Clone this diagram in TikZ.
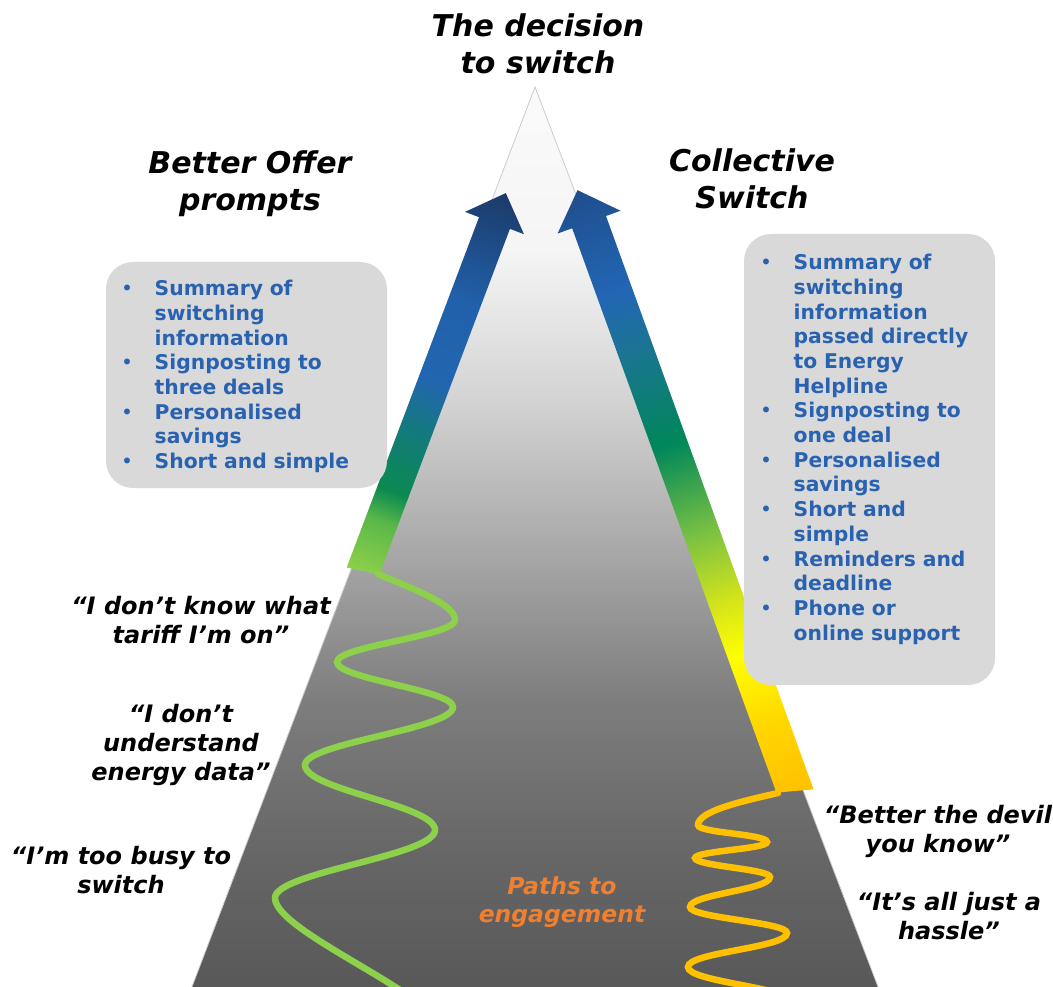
\documentclass[tikz,border=0pt]{standalone}
\usepackage{fontspec}
\setmainfont{DejaVu Sans}[BoldFont={DejaVu Sans Bold},ItalicFont={DejaVu Sans Oblique},BoldItalicFont={DejaVu Sans Bold Oblique}]
\definecolor{boxgray}{HTML}{D9D9D9}
\definecolor{bultxt}{HTML}{2862B0}
\definecolor{pathorange}{HTML}{F07F2F}
\definecolor{wavegreen}{HTML}{8CD04B}
\definecolor{waveorange}{HTML}{FFC000}
% triangle greys
\definecolor{tg0}{gray}{0.345}
\definecolor{tg1}{gray}{0.40}
\definecolor{tg2}{gray}{0.49}
\definecolor{tg3}{gray}{0.647}
\definecolor{tg4}{gray}{0.824}
\definecolor{tg5}{gray}{0.96}
\definecolor{tg6}{gray}{0.98}
% left arrow
\definecolor{la0}{HTML}{8ED04A}
\definecolor{la1}{HTML}{5AB848}
\definecolor{la2}{HTML}{0A8A50}
\definecolor{la3}{HTML}{137A7C}
\definecolor{la4}{HTML}{2266B0}
\definecolor{la5}{HTML}{2160AA}
\definecolor{la6}{HTML}{1C3A68}
% right arrow
\definecolor{ra0}{HTML}{FFC000}
\definecolor{ra1}{HTML}{FFD700}
\definecolor{ra2}{HTML}{FFFF00}
\definecolor{ra3}{HTML}{D4E41A}
\definecolor{ra4}{HTML}{7CC242}
\definecolor{ra5}{HTML}{00875A}
\definecolor{ra6}{HTML}{1A7590}
\definecolor{ra7}{HTML}{2266B5}
\definecolor{ra8}{HTML}{1F4E8C}
\pgfdeclareverticalshading{mountain}{100bp}{color(0bp)=(tg0); color(25bp)=(tg0); color(32.5bp)=(tg1); color(41bp)=(tg2); color(48.75bp)=(tg3); color(57.5bp)=(tg4); color(66bp)=(tg5); color(75bp)=(tg6); color(100bp)=(tg6)}
\pgfdeclareverticalshading{leftarrow}{100bp}{color(0bp)=(la0); color(25bp)=(la0); color(31.75bp)=(la1); color(35.7bp)=(la2); color(43.6bp)=(la3); color(50.25bp)=(la4); color(60.8bp)=(la5); color(75bp)=(la6); color(100bp)=(la6)}
\pgfdeclareverticalshading{rightarrow}{100bp}{color(0bp)=(ra0); color(25bp)=(ra0); color(31bp)=(ra1); color(36.75bp)=(ra2); color(41bp)=(ra3); color(46.5bp)=(ra4); color(54bp)=(ra5); color(61.5bp)=(ra6); color(66.5bp)=(ra7); color(75bp)=(ra8); color(100bp)=(ra8)}
\newcommand{\bitem}[1]{\noindent\makebox[36.5pt][l]{\makebox[18pt]{\mdseries •}}\parbox[t]{205pt}{\raggedright #1\par\xdef\bitemdepth{\the\prevdepth}}\par\prevdepth=\bitemdepth\relax}
\tikzset{
  headtxt/.style={font=\fontsize{30}{37}\selectfont\bfseries\itshape, align=center, inner sep=0pt, text=black},
  quotetxt/.style={font=\fontsize{24}{29}\selectfont\bfseries\itshape, align=center, inner sep=0pt, text=black},
  pathtxt/.style={font=\fontsize{23.5}{28}\selectfont\bfseries\itshape, align=center, inner sep=0pt, text=pathorange},
  bullettxt/.style={font=\fontsize{20.3}{24.7}\selectfont\bfseries, inner sep=0pt, text=bultxt, anchor=north west},
  infobox/.style={fill=boxgray, rounded corners=27pt},
  wave/.style={line width=6.5pt, line cap=round}
}
\begin{document}
\begin{tikzpicture}[x=1pt,y=-1pt]
\useasboundingbox (0,0) rectangle (1053,987);
\fill[white] (0,0) rectangle (1053,987);
% mountain
\shadedraw[shading=mountain, draw=gray!40, line width=0.8pt] (535,87) -- (880,992) -- (190,992) -- cycle;
% left arrow
\begin{scope}[transform canvas={shift={(363,571)}, rotate=-20.7}]
  \shade[shading=leftarrow] (-16.5,2.5) -- (16.5,-2.5) -- (16.5,-372) -- (31.5,-372) -- (0,-404) -- (-31.5,-372) -- (-16.5,-372) -- cycle;
\end{scope}
% right arrow
\begin{scope}[transform canvas={shift={(795,791)}, rotate=19.9}]
  \shade[shading=rightarrow] (-18,-4.8) -- (18,4.8) -- (18,-605) -- (33.5,-605) -- (0,-639) -- (-33.5,-605) -- (-18,-605) -- cycle;
\end{scope}
% waves
\draw[wave, wavegreen] (378,574) .. controls +(35,15) and +(0,-16) .. (455,620)
  .. controls +(0,16) and +(0,-16) .. (337,662)
  .. controls +(0,17) and +(0,-17) .. (453,707)
  .. controls +(0,22) and +(0,-22) .. (305,765)
  .. controls +(0,25) and +(0,-25) .. (435,830)
  .. controls +(0,26) and +(0,-26) .. (275,898)
  .. controls +(0,34) and +(0,-34) .. (440,1030);
\draw[wave, waveorange] (778,793) .. controls +(-35,8) and +(0,-14) .. (698,825)
  .. controls +(0,8) and +(0,-8) .. (767,842)
  .. controls +(0,7) and +(0,-7) .. (695,858)
  .. controls +(0,8) and +(0,-8) .. (770,877)
  .. controls +(0,13) and +(0,-13) .. (690,907)
  .. controls +(0,11) and +(0,-11) .. (787,933)
  .. controls +(0,15) and +(0,-15) .. (688,967)
  .. controls +(0,15) and +(0,-15) .. (790,1002);
% info boxes
\fill[infobox] (106,262) rectangle (387,488);
\fill[infobox] (744,234) rectangle (995,685);
\node[bullettxt, text width=245pt] (leftlist) at (118,280) {%
\bitem{Summary of\\switching\\information}
\bitem{Signposting to\\three deals}
\bitem{Personalised\\savings}
\bitem{Short and simple}};
\node[bullettxt, text width=240pt] (rightlist) at (757,254) {%
\bitem{Summary of\\switching\\information\\passed directly\\to Energy\\Helpline}
\bitem{Signposting to\\one deal}
\bitem{Personalised\\savings}
\bitem{Short and\\simple}
\bitem{Reminders and\\deadline}
\bitem{Phone or\\online support}};
% headings
\node[headtxt] (title) at (538,44) {The decision\\to switch};
\node[headtxt] (better) at (250,184) {Better Offer\\prompts};
\node[headtxt] (collective) at (752,179) {Collective\\Switch};
% quotes
\node[quotetxt] (q1) at (201,620) {“I don’t know what\\tariff I’m on”};
\node[quotetxt] (q2) at (181,745) {“I don’t\\understand\\energy data”};
\node[quotetxt] (q3) at (121,870) {“I’m too busy to\\switch};
\node[quotetxt] (q4) at (938,831) {“Better the devil\\you know”};
\node[quotetxt] (q5) at (949,916) {“It’s all just a\\hassle”};
\node[pathtxt] (paths) at (562,902) {Paths to\\engagement};
\end{tikzpicture}
\end{document}
